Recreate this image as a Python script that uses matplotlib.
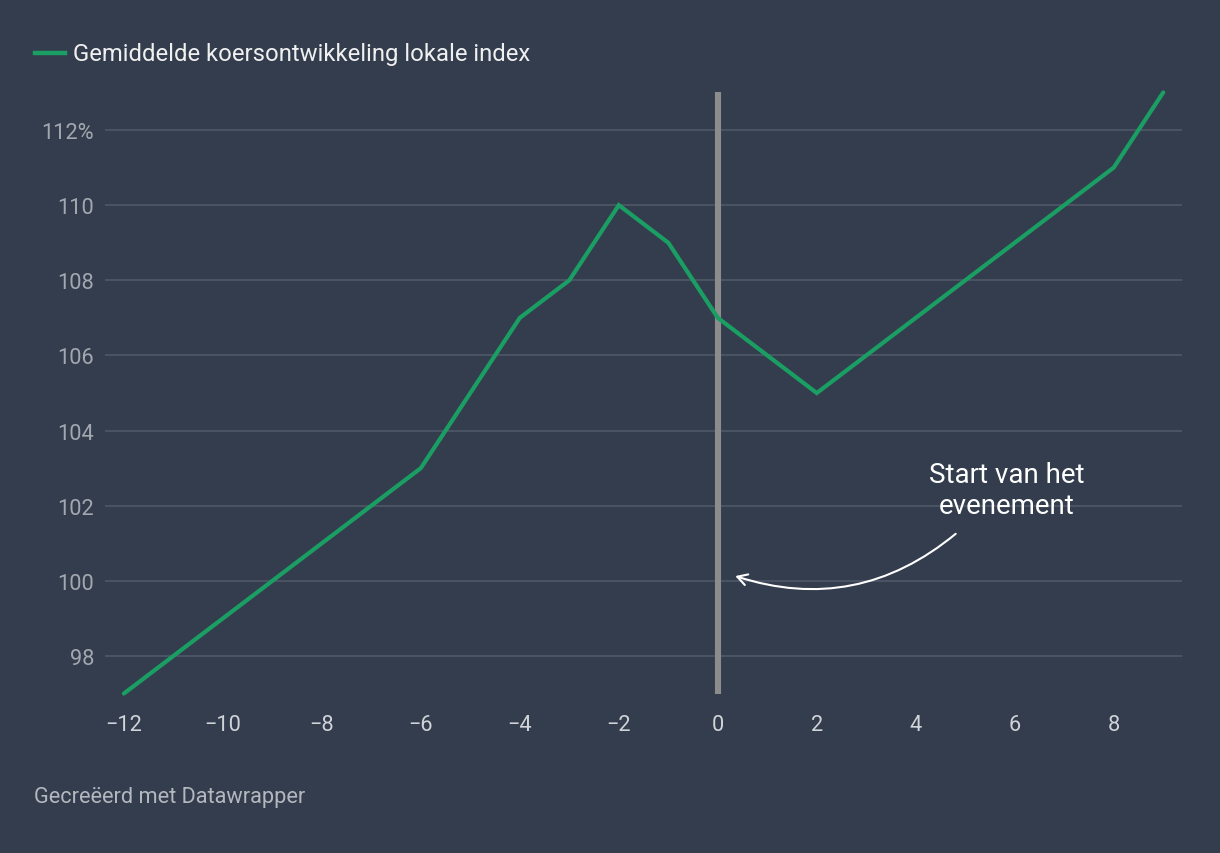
import matplotlib as mpl
import numpy as np
from matplotlib import pyplot as plt
from matplotlib.lines import Line2D
from matplotlib.patches import FancyArrowPatch

plt.rcParams['font.family'] = ['Roboto', 'DejaVu Sans']

# data
months = [-12, -6, -4, -3, -2, -1, 0, 2, 8, 9]
index_pct = [97, 103, 107, 108, 110, 109, 107, 105, 111, 113]
y_ticks = [98, 100, 102, 104, 106, 108, 110, 112]
y_tick_labels = ['98', '100', '102', '104', '106', '108', '110', '112%']
x_ticks = [-12, -10, -8, -6, -4, -2, 0, 2, 4, 6, 8]
x_tick_labels = ['\u221212', '\u221210', '\u22128', '\u22126', '\u22124', '\u22122',
                 '0', '2', '4', '6', '8']

bg = '#333d4d'
green = '#1a9e63'
grid = '#4d5665'
tick_col = '#a3a8b0'

fig = plt.figure(figsize=(12.2, 8.54), dpi=100, facecolor=bg)
ax = fig.add_axes([0.0861, 0.1867, 0.8828, 0.7039])
ax.set_facecolor(bg)

ax.set_xlim(-12.38, 9.38)
ax.set_ylim(97, 113)

for yv in y_ticks:
    ax.axhline(yv, color=grid, linewidth=1.3, zorder=0)

# event marker
ax.plot([0, 0], [97, 113], color='#8c8c8c', linewidth=4.4, zorder=1,
        solid_capstyle='butt', clip_on=False)

ax.plot(months, index_pct, color=green, linewidth=3, zorder=3,
        solid_capstyle='round', solid_joinstyle='miter', clip_on=False)

for s in ax.spines.values():
    s.set_visible(False)
ax.set_yticks(y_ticks)
ax.set_yticklabels(y_tick_labels)
ax.set_xticks(x_ticks)
ax.set_xticklabels(x_tick_labels)
ax.tick_params(axis='both', length=0, colors=tick_col, labelsize=15.7)
ax.tick_params(axis='y', pad=8)
ax.tick_params(axis='x', pad=15)
for lbl in ax.get_xticklabels():
    lbl.set_color('#d0d3d8')

# annotation
ax.text(5.84, 102.42, 'Start van het\nevenement', color='white', fontsize=20,
        ha='center', va='center', linespacing=1.2)
arrow = FancyArrowPatch((4.85, 101.3), (0.3, 100.15),
                        connectionstyle='arc3,rad=-0.28',
                        arrowstyle='->,head_length=7,head_width=4',
                        color='white', linewidth=1.5, zorder=4)
ax.add_patch(arrow)

# legend
fig.add_artist(Line2D([35 / 1220, 65 / 1220], [1 - 54 / 854, 1 - 54 / 854],
                      color=green, linewidth=3.2, transform=fig.transFigure))
fig.text(73 / 1220, 1 - 54 / 854, 'Gemiddelde koersontwikkeling lokale index',
         color='#f0f0f0', fontsize=17.2, va='center', ha='left')

fig.text(34 / 1220, 1 - 798 / 854, 'Gecre\u00eberd met Datawrapper',
         color='#b3b7be', fontsize=15.7, va='center', ha='left')

plt.savefig('out.png', facecolor=bg)
